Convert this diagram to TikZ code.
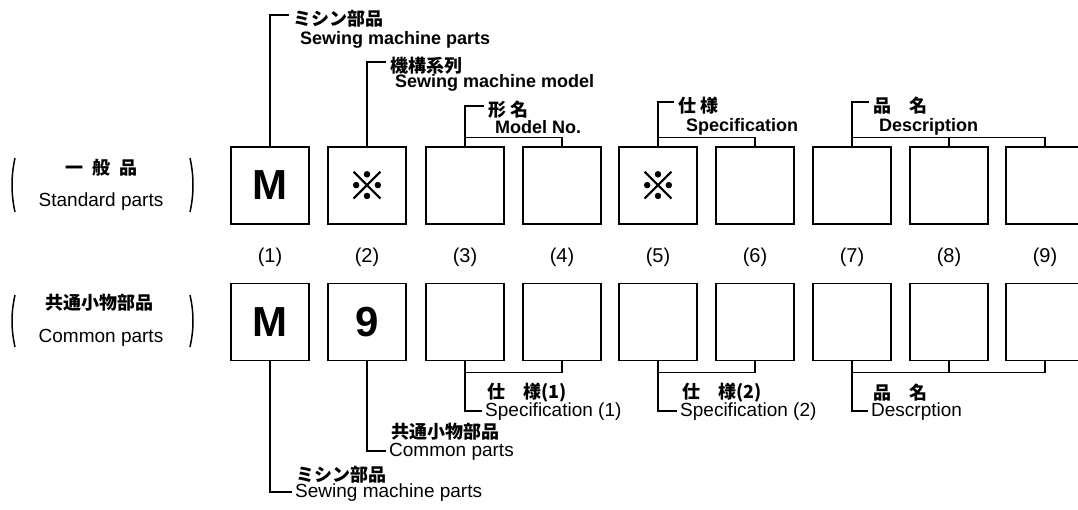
\documentclass[tikz,border=0pt]{standalone}
\usepackage{fontspec}
\setmainfont{Liberation Sans}
\newfontfamily\jp{Noto Sans CJK JP}
\newfontfamily\jpmark[FakeBold=1.8]{Noto Sans CJK JP}
\newcommand\wide{\spaceskip=9pt\relax}
\tikzset{
  part/.style={draw, line width=1.6pt, minimum width=78pt, minimum height=77pt, inner sep=0pt, font=\fontsize{42}{42}\selectfont\bfseries},
  lead/.style={line width=1.1pt},
  paren/.style={line width=1.5pt},
  toplab/.style={anchor=west, inner sep=0pt, font=\fontsize{18}{18}\selectfont\bfseries},
  topjp/.style={anchor=west, inner xsep=4pt, inner ysep=0pt, font=\fontsize{18}{18}\selectfont\jp\bfseries},
  botlab/.style={anchor=west, inner xsep=3pt, inner ysep=0pt, font=\fontsize{19}{19}\selectfont},
  botjp/.style={anchor=west, inner sep=0pt, font=\fontsize{18}{18}\selectfont\jp\bfseries},
  sidelab/.style={inner sep=0pt, font=\fontsize{19}{19}\selectfont},
  sidejp/.style={inner sep=0pt, font=\fontsize{18}{18}\selectfont\jp\bfseries},
  num/.style={font=\fontsize{20}{20}\selectfont}
}
\begin{document}
\begin{tikzpicture}[x=1pt,y=-1pt]
    \useasboundingbox (0,0) rectangle (1078,509);
    % two rows of boxes
    \foreach \i/\x/\up/\down in {1/270/M/M,2/367/{\fontsize{38}{38}\jpmark ※}/9,3/465//,4/562//,5/658/{\fontsize{38}{38}\jpmark ※}/,6/755//,7/852//,8/949//,9/1045//}{
    \node[part] (t\i) at (\x,185.5) {\up};
    \node[part] (b\i) at (\x,322) {\down};
    \node[num] (n\i) at (\x,257) {(\i)};
    }
    % left side
    \node[sidejp] (std) at (101,168) {\wide 一 般 品};
    \node[sidelab] (stdE) at (101,202) {Standard parts};
    \node[sidejp] (cmn) at (99,303) {共通小物部品};
    \node[sidelab] (cmnE) at (101,338) {Common parts};
    \draw[paren] (15,158) .. controls (11,176) and (11,194) .. (15,212);
    \draw[paren] (190,158) .. controls (194,176) and (194,194) .. (190,212);
    \draw[paren] (15,295) .. controls (11,313) and (11,329) .. (15,347);
    \draw[paren] (190,295) .. controls (194,313) and (194,329) .. (190,347);
    % labels above
    \node[topjp] (jpA) at (289,19) {ミシン部品};
    \node[toplab] (enA) at (300,40) {Sewing machine parts};
    \node[topjp] (jpB) at (386,66) {機構系列};
    \node[toplab] (enB) at (395,83) {Sewing machine model};
    \node[topjp] (jpC) at (484,110) {形 名};
    \node[toplab] (enC) at (495,127) {Model No.};
    \node[topjp] (jpD) at (674,106) {仕 様};
    \node[toplab] (enD) at (686,127) {Specification};
    \node[topjp] (jpE) at (869,106) {品　名};
    \node[toplab] (enE) at (879,127) {Description};
    \draw[lead] (t1.north) |- ([yshift=4pt]jpA.west);
    \draw[lead] (t2.north) |- ([yshift=4pt]jpB.west);
    \draw[lead] (t3.north) |- ([yshift=4pt]jpC.west);
    \draw[lead] (t5.north) |- ([yshift=4pt]jpD.west);
    \draw[lead] (t7.north) |- ([yshift=4pt]jpE.west);
    \draw[lead] (t3.north) ++(0,-9) -| (t4.north);
    \draw[lead] (t5.north) ++(0,-9) -| (t6.north);
    \draw[lead] (t7.north) ++(0,-9) -| (t9.north);
    \draw[lead] (t8.north) -- ++(0,-9);
    % labels below
    \node[botlab] (enF) at (292,493) {Sewing machine parts};
    \node[botjp] (jpF) at (296,475) {ミシン部品};
    \node[botlab] (enG) at (386,452) {Common parts};
    \node[botjp] (jpG) at (391,432) {共通小物部品};
    \node[botlab] (enH) at (482,412) {Specification (1)};
    \node[botjp] (jpH) at (487,393) {仕　様(1)};
    \node[botlab] (enI) at (677,412) {Specification (2)};
    \node[botjp] (jpI) at (682,393) {仕　様(2)};
    \node[botlab] (enJ) at (868,412) {Descrption};
    \node[botjp] (jpJ) at (873,393) {品　名};
    \draw[lead] (b1.south) |- ([yshift=1pt]enF.west);
    \draw[lead] (b2.south) |- ([yshift=1pt]enG.west);
    \draw[lead] (b3.south) |- ([yshift=1pt]enH.west);
    \draw[lead] (b5.south) |- ([yshift=1pt]enI.west);
    \draw[lead] (b7.south) |- ([yshift=1pt]enJ.west);
    \draw[lead] (b3.south) ++(0,11) -| (b4.south);
    \draw[lead] (b5.south) ++(0,11) -| (b6.south);
    \draw[lead] (b7.south) ++(0,11) -| (b9.south);
    \draw[lead] (b8.south) -- ++(0,11);
\end{tikzpicture}
\end{document}
